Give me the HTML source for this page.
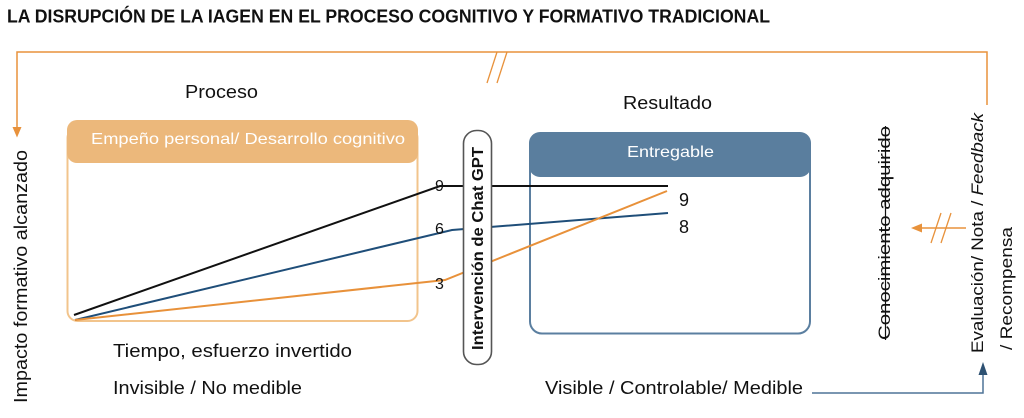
<!DOCTYPE html>
<html>
<head>
<meta charset="utf-8">
<style>
html,body{margin:0;padding:0;background:#fff;}
svg{display:block;}
text{font-family:"Liberation Sans","DejaVu Sans",sans-serif;}
</style>
</head>
<body>
<svg width="1024" height="418" viewBox="0 0 1024 418" xmlns="http://www.w3.org/2000/svg">
  <rect width="1024" height="418" fill="#fff"/>

  <!-- Title -->
  <text x="7" y="22.5" font-size="18" font-weight="bold" fill="#111" textLength="763" lengthAdjust="spacingAndGlyphs">LA DISRUPCIÓN DE LA IAGEN EN EL PROCESO COGNITIVO Y FORMATIVO TRADICIONAL</text>

  <!-- Orange feedback loop -->
  <polyline points="17,130 17,52 987,52 987,105" fill="none" stroke="#e8923c" stroke-width="1.5"/>
  <polygon points="12.5,127 21.5,127 17,137.5" fill="#e8923c"/>
  <line x1="497" y1="52" x2="487" y2="83" stroke="#e8923c" stroke-width="1.3"/>
  <line x1="507" y1="52" x2="497" y2="83" stroke="#e8923c" stroke-width="1.3"/>

  <!-- Left axis label -->
  <text transform="translate(27,403) rotate(-90)" font-size="18" fill="#111" textLength="253" lengthAdjust="spacingAndGlyphs">Impacto formativo alcanzado</text>

  <!-- Proceso -->
  <text x="185" y="98" font-size="18" fill="#111" textLength="73" lengthAdjust="spacingAndGlyphs">Proceso</text>

  <!-- Orange box -->
  <rect x="67.5" y="128" width="350" height="193" rx="10" fill="none" stroke="#f2c48c" stroke-width="2"/>
  <rect x="67" y="120" width="351" height="43" rx="10" fill="#ecb87b"/>
  <text x="91" y="144" font-size="16" fill="#fff" textLength="314" lengthAdjust="spacingAndGlyphs">Empeño personal/ Desarrollo cognitivo</text>

  <!-- Resultado -->
  <text x="623" y="109" font-size="18" fill="#111" textLength="89" lengthAdjust="spacingAndGlyphs">Resultado</text>

  <!-- Blue box -->
  <rect x="530" y="140" width="280" height="193.5" rx="12" fill="none" stroke="#5b7fa0" stroke-width="2"/>
  <rect x="529" y="132" width="282" height="45" rx="11" fill="#5a7e9e"/>
  <text x="627" y="157" font-size="16" fill="#fff" textLength="87" lengthAdjust="spacingAndGlyphs">Entregable</text>

  <!-- Data lines -->
  <polyline points="74,315 440,186 668,186" fill="none" stroke="#111" stroke-width="2"/>
  <polyline points="75,320 452,230 668,213" fill="none" stroke="#1f4e79" stroke-width="2"/>
  <polyline points="75,320 445,280 667,191" fill="none" stroke="#e8913a" stroke-width="2"/>

  <!-- Numbers -->
  <text x="435" y="191" font-size="16" fill="#111">9</text>
  <text x="435" y="234" font-size="16" fill="#111">6</text>
  <text x="435" y="289" font-size="16" fill="#111">3</text>
  <text x="679" y="206" font-size="18" fill="#111">9</text>
  <text x="679" y="233" font-size="18" fill="#111">8</text>

  <!-- Chat GPT pill -->
  <rect x="463.5" y="130.5" width="28" height="234" rx="13" fill="#fff" stroke="#555" stroke-width="1.6"/>
  <text transform="translate(483,350) rotate(-90)" font-size="16" font-weight="bold" fill="#111" textLength="203" lengthAdjust="spacingAndGlyphs">Intervención de Chat GPT</text>

  <!-- Bottom labels -->
  <text x="113" y="357" font-size="18" fill="#111" textLength="239" lengthAdjust="spacingAndGlyphs">Tiempo, esfuerzo invertido</text>
  <text x="113" y="394" font-size="18" fill="#111" textLength="189" lengthAdjust="spacingAndGlyphs">Invisible / No medible</text>
  <text x="545" y="394" font-size="18" fill="#111" textLength="258" lengthAdjust="spacingAndGlyphs">Visible / Controlable/ Medible</text>

  <!-- Blue connector bottom right -->
  <polyline points="812,393 983,393 983,373" fill="none" stroke="#4f7497" stroke-width="1.5"/>
  <polygon points="978.5,375 987.5,375 983,362" fill="#2d5172"/>

  <!-- Conocimiento adquirido (struck) -->
  <text transform="translate(890,340) rotate(-90)" font-size="17" fill="#111" textLength="214" lengthAdjust="spacingAndGlyphs">Conocimiento adquirido</text>
  <line x1="885.5" y1="126" x2="885.5" y2="340" stroke="#111" stroke-width="1.2"/>

  <!-- Evaluación text -->
  <text transform="translate(983,353) rotate(-90)" font-size="17" fill="#111" textLength="240" lengthAdjust="spacingAndGlyphs">Evaluación/ Nota / <tspan font-style="italic">Feedback</tspan></text>
  <text transform="translate(1012,350) rotate(-90)" font-size="17" fill="#111" textLength="123" lengthAdjust="spacingAndGlyphs">/ Recompensa</text>

  <!-- Orange middle arrow -->
  <line x1="966" y1="228" x2="918" y2="228" stroke="#e8923c" stroke-width="1.5"/>
  <polygon points="911,228 922,223.5 922,232.5" fill="#e8923c"/>
  <line x1="941" y1="213" x2="931" y2="243" stroke="#e8923c" stroke-width="1.3"/>
  <line x1="951" y1="213" x2="941" y2="243" stroke="#e8923c" stroke-width="1.3"/>
</svg>
</body>
</html>
